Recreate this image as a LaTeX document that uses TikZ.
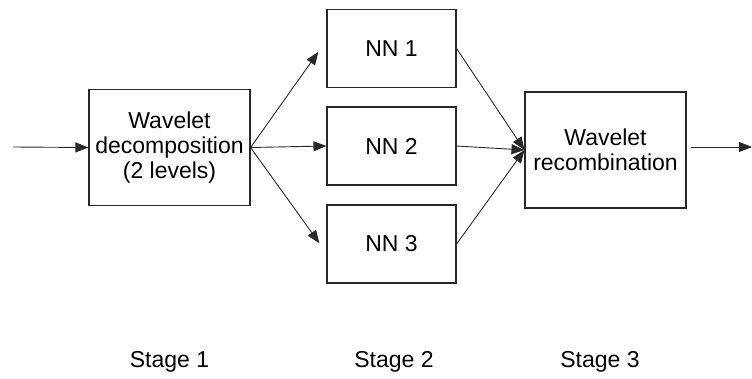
\documentclass[tikz,border=0pt]{standalone}
\usepackage{fontspec}
\setmainfont{Liberation Sans}
\usepackage{tikz}
\usetikzlibrary{arrows.meta,positioning}
\usepackage{xcolor}
\definecolor{ink}{RGB}{40,40,40}
\tikzset{
  box/.style={draw=ink,line width=1.1pt,fill=white,align=center,
    font=\fontsize{23}{25}\selectfont,inner sep=0pt},
  nnbox/.style={box,minimum width=129pt,minimum height=78pt},
  stagebox/.style={box,minimum width=161pt,minimum height=116pt},
  arr/.style={-{Triangle[length=13pt,width=10pt]},line width=0.9pt,ink},
  lbl/.style={font=\fontsize{23}{25}\selectfont,anchor=base},
}

\begin{document}
\begin{tikzpicture}[x=1pt,y=-1pt]
  \useasboundingbox (0,0) rectangle (752,379);
  % stage 1
  \node[stagebox] (dec) at (169.5,147.5) {Wavelet\\decomposition\\(2 levels)};
  % stage 2: three networks
  \node[nnbox] (nn1) at (391.5,48.5) {NN 1};
  \node[nnbox] (nn2) at (391.5,146) {NN 2};
  \node[nnbox] (nn3) at (391.5,244) {NN 3};
  % stage 3
  \node[stagebox] (rec) at (605.5,150) {Wavelet\\recombination};
  \coordinate (in) at (13,147);
  \coordinate (out) at (752,147);

  \draw[arr] (in) -- (dec.west);
  \draw[arr,shorten >=14pt] (dec.east) -- ([yshift=8pt]nn1.west);
  \draw[arr] (dec.east) -- (nn2.west);
  \draw[arr,shorten >=12pt] (dec.east) -- ([yshift=-9pt]nn3.west);
  \draw[arr] (nn1.east) -- (rec.west);
  \draw[arr] (nn2.east) -- (rec.west);
  \draw[arr] (nn3.east) -- (rec.west);
  \draw[arr] (rec.east) ++(4,-3) coordinate (recout) -- (out);

  % stage captions
  \node[lbl] (s1) at (169.5,367) {Stage 1};
  \node[lbl] (s2) at (394,367) {Stage 2};
  \node[lbl] (s3) at (600,367) {Stage 3};
\end{tikzpicture}
\end{document}
